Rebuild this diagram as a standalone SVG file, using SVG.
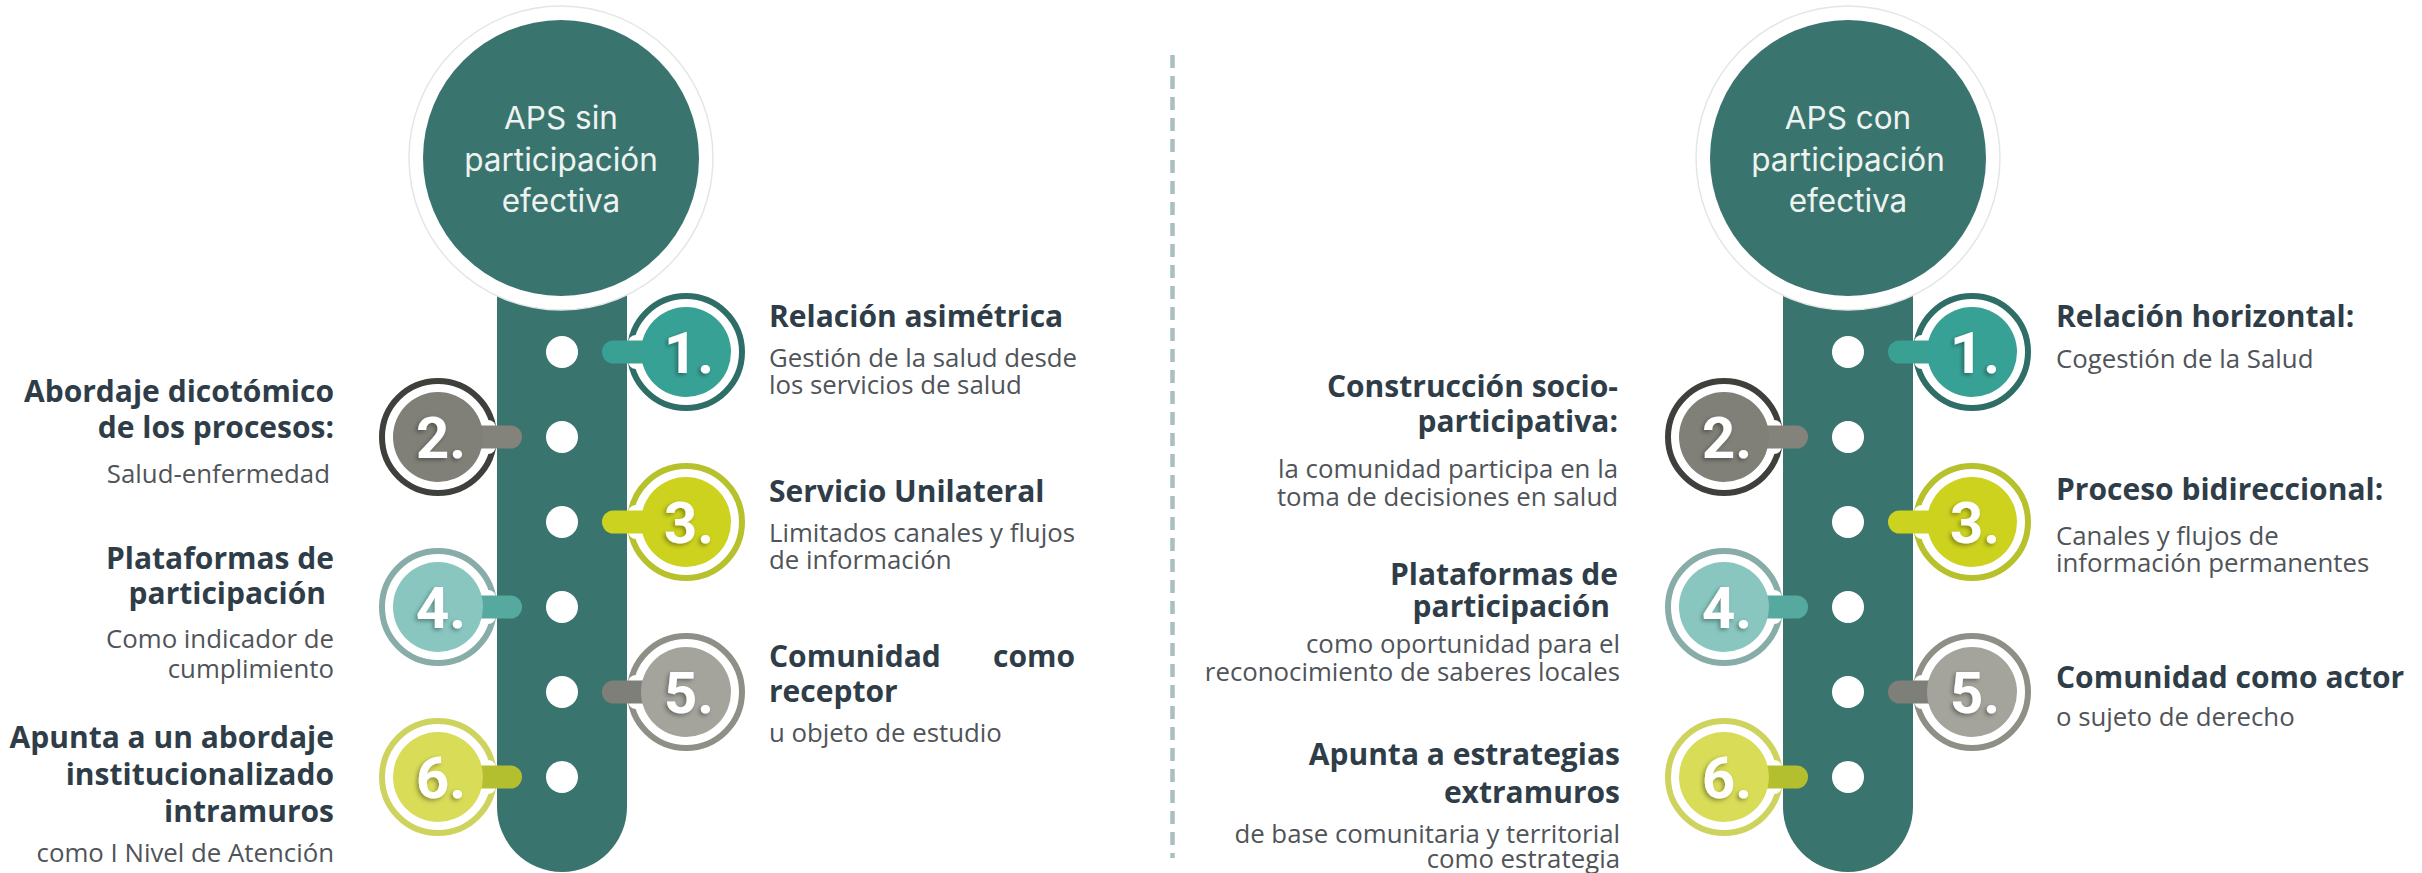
<svg xmlns="http://www.w3.org/2000/svg" width="2422" height="873" viewBox="0 0 2422 873">
<defs>
<style>
.pillar{fill:#3a746f}
.halo{fill:#ffffff;stroke:#e4e6e4;stroke-width:1.5}
.core{fill:#3a746f}
.ctitle{font-family:"Inter","Noto Sans",sans-serif;font-weight:400;font-size:31.5px;fill:#eef3ef;text-anchor:middle}
.dot{fill:#ffffff}
.ring{fill:none;stroke-width:6}
.notch{fill:#ffffff}
.num{font-family:"Liberation Sans Narrow","Roboto",sans-serif;font-weight:700;font-size:58px;fill:#ffffff;text-anchor:middle;filter:url(#sh)}
.h{font-family:"Open Sans","Noto Sans",sans-serif;font-weight:700;font-size:30px;fill:#2f3d48}
.s{font-family:"Open Sans","Noto Sans",sans-serif;font-weight:400;font-size:25.8px;fill:#4f5459}
.r{text-anchor:end}
.sep{stroke:#a9bfc0;stroke-width:4.5;stroke-dasharray:13 8;fill:none}
</style>
<filter id="sh" x="-30%" y="-30%" width="160%" height="160%">
<feDropShadow dx="-2" dy="2" stdDeviation="2" flood-color="#000000" flood-opacity="0.35"/>
</filter>
</defs>
<rect width="2422" height="873" fill="#ffffff"/>

<g id="connectors">
<line class="sep" x1="1172.5" y1="55" x2="1172.5" y2="858"/>
</g>

<!-- LEFT PANEL -->
<g id="left-pillar">
<path class="pillar" d="M497 250 H627 V807 A65 65 0 0 1 497 807 Z"/>
<circle class="dot" cx="562" cy="352" r="16"/>
<circle class="dot" cx="562" cy="437" r="16"/>
<circle class="dot" cx="562" cy="522" r="16"/>
<circle class="dot" cx="562" cy="607" r="16"/>
<circle class="dot" cx="562" cy="692" r="16"/>
<circle class="dot" cx="562" cy="777" r="16"/>
</g>
<g id="left-title">
<circle class="halo" cx="561" cy="158" r="152"/>
<circle class="core" cx="561" cy="158" r="138"/>
<text class="ctitle" x="561" y="129">APS sin</text>
<text class="ctitle" x="561" y="171">participación</text>
<text class="ctitle" x="561" y="212">efectiva</text>
</g>

<g id="L1">
<circle class="ring" cx="686" cy="352" r="56" stroke="#2f6d67"/>
<rect class="notch" x="628" y="335" width="22" height="34" rx="8"/>
<rect x="602" y="340.5" width="60" height="23" rx="11.5" fill="#3aa094"/>
<circle cx="686" cy="352" r="45" fill="#38a195"/>
<text class="num" x="689" y="373">1.</text>
</g>
<g id="L2">
<circle class="ring" cx="438" cy="437" r="56" stroke="#3e403c"/>
<rect class="notch" x="474" y="420" width="22" height="34" rx="8"/>
<rect x="462" y="425.5" width="60" height="23" rx="11.5" fill="#83837b"/>
<circle cx="438" cy="437" r="45" fill="#807f78"/>
<text class="num" x="441" y="458">2.</text>
</g>
<g id="L3">
<circle class="ring" cx="686" cy="522" r="56" stroke="#b6c12b"/>
<rect class="notch" x="628" y="505" width="22" height="34" rx="8"/>
<rect x="602" y="510.5" width="60" height="23" rx="11.5" fill="#cbd21f"/>
<circle cx="686" cy="522" r="45" fill="#ccd21d"/>
<text class="num" x="689" y="543">3.</text>
</g>
<g id="L4">
<circle class="ring" cx="438" cy="607" r="56" stroke="#88aca7"/>
<rect class="notch" x="474" y="590" width="22" height="34" rx="8"/>
<rect x="462" y="595.5" width="60" height="23" rx="11.5" fill="#56a99e"/>
<circle cx="438" cy="607" r="45" fill="#88c6bf"/>
<text class="num" x="441" y="628">4.</text>
</g>
<g id="L5">
<circle class="ring" cx="686" cy="692" r="56" stroke="#8e8f86"/>
<rect class="notch" x="628" y="675" width="22" height="34" rx="8"/>
<rect x="602" y="680.5" width="60" height="23" rx="11.5" fill="#7e7f78"/>
<circle cx="686" cy="692" r="45" fill="#a4a49c"/>
<text class="num" x="689" y="713">5.</text>
</g>
<g id="L6">
<circle class="ring" cx="438" cy="777" r="56" stroke="#cdd35d"/>
<rect class="notch" x="474" y="760" width="22" height="34" rx="8"/>
<rect x="462" y="765.5" width="60" height="23" rx="11.5" fill="#b3bf2f"/>
<circle cx="438" cy="777" r="45" fill="#d8dc57"/>
<text class="num" x="441" y="798">6.</text>
</g>

<g id="L1-text">
<text class="h" x="769" y="327">Relación asimétrica</text>
<text class="s" x="769" y="367">Gestión de la salud desde</text>
<text class="s" x="769" y="394">los servicios de salud</text>
</g>
<g id="L2-text">
<text class="h r" x="334" y="402">Abordaje dicotómico</text>
<text class="h r" x="334" y="438">de los procesos:</text>
<text class="s r" x="330" y="483">Salud-enfermedad</text>
</g>
<g id="L3-text">
<text class="h" x="769" y="502">Servicio Unilateral</text>
<text class="s" x="769" y="542">Limitados canales y flujos</text>
<text class="s" x="769" y="569">de información</text>
</g>
<g id="L4-text">
<text class="h r" x="334" y="569">Plataformas de</text>
<text class="h r" x="326" y="604">participación</text>
<text class="s r" x="334" y="648">Como indicador de</text>
<text class="s r" x="334" y="678">cumplimiento</text>
</g>
<g id="L5-text">
<text class="h" x="769" y="667">Comunidad</text>
<text class="h r" x="1075" y="667">como</text>
<text class="h" x="769" y="702">receptor</text>
<text class="s" x="769" y="742">u objeto de estudio</text>
</g>
<g id="L6-text">
<text class="h r" x="334" y="748">Apunta a un abordaje</text>
<text class="h r" x="334" y="785">institucionalizado</text>
<text class="h r" x="334" y="822">intramuros</text>
<text class="s r" x="334" y="862">como I Nivel de Atención</text>
</g>

<!-- RIGHT PANEL -->
<g id="right-pillar">
<path class="pillar" d="M1783 250 H1913 V807 A65 65 0 0 1 1783 807 Z"/>
<circle class="dot" cx="1848" cy="352" r="16"/>
<circle class="dot" cx="1848" cy="437" r="16"/>
<circle class="dot" cx="1848" cy="522" r="16"/>
<circle class="dot" cx="1848" cy="607" r="16"/>
<circle class="dot" cx="1848" cy="692" r="16"/>
<circle class="dot" cx="1848" cy="777" r="16"/>
</g>
<g id="right-title">
<circle class="halo" cx="1848" cy="158" r="152"/>
<circle class="core" cx="1848" cy="158" r="138"/>
<text class="ctitle" x="1848" y="129">APS con</text>
<text class="ctitle" x="1848" y="171">participación</text>
<text class="ctitle" x="1848" y="212">efectiva</text>
</g>

<g id="R1">
<circle class="ring" cx="1972" cy="352" r="56" stroke="#2f6d67"/>
<rect class="notch" x="1914" y="335" width="22" height="34" rx="8"/>
<rect x="1888" y="340.5" width="60" height="23" rx="11.5" fill="#3aa094"/>
<circle cx="1972" cy="352" r="45" fill="#38a195"/>
<text class="num" x="1975" y="373">1.</text>
</g>
<g id="R2">
<circle class="ring" cx="1724" cy="437" r="56" stroke="#3e403c"/>
<rect class="notch" x="1760" y="420" width="22" height="34" rx="8"/>
<rect x="1748" y="425.5" width="60" height="23" rx="11.5" fill="#83837b"/>
<circle cx="1724" cy="437" r="45" fill="#807f78"/>
<text class="num" x="1727" y="458">2.</text>
</g>
<g id="R3">
<circle class="ring" cx="1972" cy="522" r="56" stroke="#b6c12b"/>
<rect class="notch" x="1914" y="505" width="22" height="34" rx="8"/>
<rect x="1888" y="510.5" width="60" height="23" rx="11.5" fill="#cbd21f"/>
<circle cx="1972" cy="522" r="45" fill="#ccd21d"/>
<text class="num" x="1975" y="543">3.</text>
</g>
<g id="R4">
<circle class="ring" cx="1724" cy="607" r="56" stroke="#88aca7"/>
<rect class="notch" x="1760" y="590" width="22" height="34" rx="8"/>
<rect x="1748" y="595.5" width="60" height="23" rx="11.5" fill="#56a99e"/>
<circle cx="1724" cy="607" r="45" fill="#88c6bf"/>
<text class="num" x="1727" y="628">4.</text>
</g>
<g id="R5">
<circle class="ring" cx="1972" cy="692" r="56" stroke="#8e8f86"/>
<rect class="notch" x="1914" y="675" width="22" height="34" rx="8"/>
<rect x="1888" y="680.5" width="60" height="23" rx="11.5" fill="#7e7f78"/>
<circle cx="1972" cy="692" r="45" fill="#a4a49c"/>
<text class="num" x="1975" y="713">5.</text>
</g>
<g id="R6">
<circle class="ring" cx="1724" cy="777" r="56" stroke="#cdd35d"/>
<rect class="notch" x="1760" y="760" width="22" height="34" rx="8"/>
<rect x="1748" y="765.5" width="60" height="23" rx="11.5" fill="#b3bf2f"/>
<circle cx="1724" cy="777" r="45" fill="#d8dc57"/>
<text class="num" x="1727" y="798">6.</text>
</g>

<g id="R1-text">
<text class="h" x="2056" y="327">Relación horizontal:</text>
<text class="s" x="2056" y="368">Cogestión de la Salud</text>
</g>
<g id="R2-text">
<text class="h r" x="1618" y="397">Construcción socio-</text>
<text class="h r" x="1618" y="432">participativa:</text>
<text class="s r" x="1618" y="478">la comunidad participa en la</text>
<text class="s r" x="1618" y="506">toma de decisiones en salud</text>
</g>
<g id="R3-text">
<text class="h" x="2056" y="500">Proceso bidireccional:</text>
<text class="s" x="2056" y="545">Canales y flujos de</text>
<text class="s" x="2056" y="572">información permanentes</text>
</g>
<g id="R4-text">
<text class="h r" x="1618" y="585">Plataformas de</text>
<text class="h r" x="1610" y="617">participación</text>
<text class="s r" x="1620" y="653">como oportunidad para el</text>
<text class="s r" x="1620" y="681">reconocimiento de saberes locales</text>
</g>
<g id="R5-text">
<text class="h" x="2056" y="688">Comunidad como actor</text>
<text class="s" x="2056" y="726">o sujeto de derecho</text>
</g>
<g id="R6-text">
<text class="h r" x="1620" y="765">Apunta a estrategias</text>
<text class="h r" x="1620" y="803">extramuros</text>
<text class="s r" x="1620" y="843">de base comunitaria y territorial</text>
<text class="s r" x="1620" y="868">como estrategia</text>
</g>
</svg>
